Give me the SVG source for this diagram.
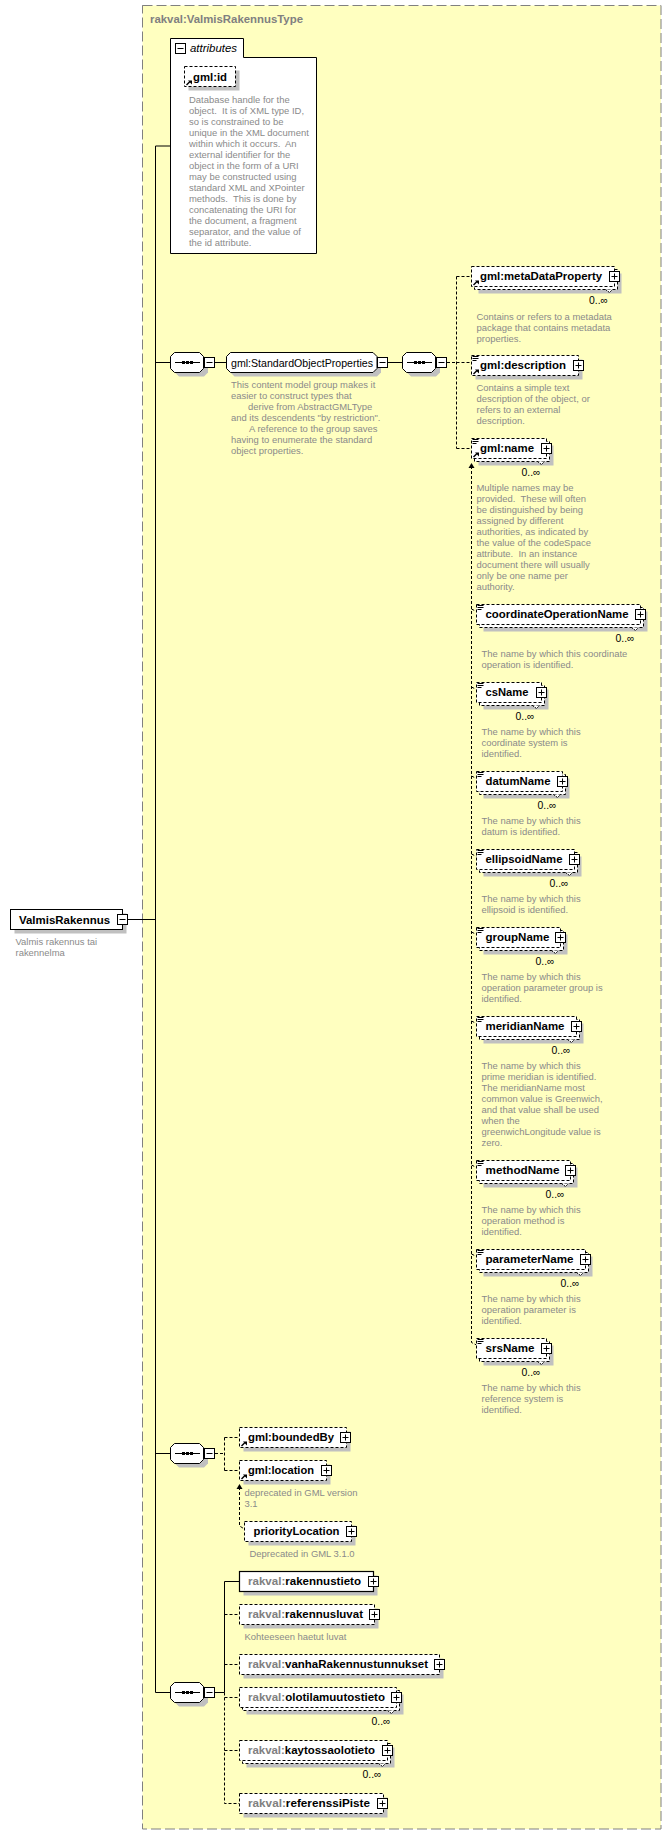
<svg xmlns="http://www.w3.org/2000/svg" width="672" height="1835" viewBox="0 0 672 1835">
<style>
text{font-family:"Liberation Sans",Arial,sans-serif;white-space:pre}
.b{font-size:11px;font-weight:bold;fill:#000}
.g{fill:#808080}
.n{font-size:11px;fill:#000}
.c{font-size:11px;fill:#000}
.t{font-size:9.45px;fill:#8a8a8a}
.sh{fill:#c0c0c0;stroke:none}
.d{fill:#fff;stroke:#000;stroke-dasharray:3 2}
.s{fill:#fff;stroke:#000}
.l{fill:none;stroke:#000}
.ld{fill:none;stroke:#000;stroke-dasharray:3 2}
</style>
<defs>
<g id="minus"><rect class="s" width="10" height="10"/><path class="l" d="M2 5H8"/></g>
<g id="plus"><rect class="s" width="10" height="10"/><path class="l" d="M2 5H8M5 2V8"/></g>
<g id="ref"><path d="M2 18.5L5.5 15" stroke="#000" stroke-width="1.4" fill="none"/><path d="M3.5 14H7.5V18Z" fill="#000"/></g>
<g id="note"><path d="M1 1H7M1 3H7M1 5H5" stroke="#000" fill="none"/></g>
<path id="tick" d="M-9 0L-5 3L-2 0" fill="#fff" stroke="#000" stroke-dasharray="2 1"/>
<g id="comp"><path class="sh" d="M8.500 4H33.500L37.500 8V20L33.500 24H8.500L4.500 20V8Z"/><path class="s" d="M4 0H29L33 4V16L29 20H4L0 16V4Z"/><path class="l" d="M4.500 10H29.500"/><path d="M11.500 8.500h3v3h-3zM15.500 8.500h3v3h-3zM19.500 8.500h3v3h-3z" fill="#000"/></g>
<path id="ah" d="M-3 5L0 0L3 5Z" fill="#000"/>
</defs>

<g id="type">
<rect x="142.500" y="5.500" width="518.500" height="1823.500" fill="#ffffc0" stroke="#808080" stroke-dasharray="10 4"/>
<text class="b g" x="150" y="23" textLength="153" lengthAdjust="spacingAndGlyphs">rakval:ValmisRakennusType</text>
</g>

<g id="connectors">
<path class="l" d="M128 919.500H155.500M155.500 146V1692.500M155.500 146H170.500M155.500 362.500H170.500M155.500 1453.500H170.500M155.500 1692.500H170.500M215 362.500H226.500M388 362.500H402.500M215 1692.500H224.500M224.500 1692.500V1581.500H239.500"/>
<path class="ld" d="M447 362.500H456.500M456.500 276.500V448.500M456.500 276.500H471.500M456.500 362.500H471.500M456.500 448.500H471.500"/>
<path class="ld" d="M471.500 466V1342.500L476.500 1345M471.500 609L476.500 611.500M471.500 687L476.500 689.500M471.500 776L476.500 778.500M471.500 854L476.500 856.500M471.500 932L476.500 934.500M471.500 1021L476.500 1023.500M471.500 1165L476.500 1167.500M471.500 1254L476.500 1256.500"/>
<path class="ld" d="M215 1453.500H224.500M224.500 1437.500V1470.500M224.500 1437.500H239.500M224.500 1470.500H239.500"/>
<path class="ld" d="M239.500 1487V1526L244.500 1529"/>
<path class="ld" d="M224.500 1692.500V1803.500H239.500M224.500 1614.500H239.500M224.500 1664.500H239.500M224.500 1697.500H239.500M224.500 1750.500H239.500"/>
<use href="#ah" x="471.500" y="463"/>
<use href="#ah" x="239.500" y="1484"/>
</g>

<g id="ValmisRakennus">
<rect class="sh" x="14.500" y="913.500" width="112" height="20"/>
<rect class="s" x="10.500" y="909.500" width="112" height="20"/>
<text class="b" x="19" y="923.500" textLength="91" lengthAdjust="spacingAndGlyphs">ValmisRakennus</text>
<use href="#minus" x="117.500" y="914.500"/>
<text class="t" x="15.500" y="945"><tspan x="15.500">Valmis rakennus tai</tspan><tspan x="15.500" dy="11">rakennelma</tspan></text>
</g>

<g id="attributes">
<path class="s" d="M170.500 253.500V38.500H243.500V57.500H316.500V253.500Z"/>
<use href="#minus" x="175.500" y="43.500"/>
<text class="n" x="190" y="52" font-style="italic" textLength="47" lengthAdjust="spacingAndGlyphs">attributes</text>
</g>

<g id="gml-id">
<rect class="sh" x="188.500" y="70.500" width="51" height="20"/>
<rect class="d" x="184.500" y="66.500" width="51" height="20"/>
<use href="#ref" x="184.500" y="66.500"/>
<text class="b" x="193" y="80.500" textLength="34" lengthAdjust="spacingAndGlyphs">gml:id</text>
<text class="t" y="102.500"><tspan x="189">Database handle for the</tspan><tspan x="189" dy="11">object.  It is of XML type ID,</tspan><tspan x="189" dy="11">so is constrained to be</tspan><tspan x="189" dy="11">unique in the XML document</tspan><tspan x="189" dy="11">within which it occurs.  An</tspan><tspan x="189" dy="11">external identifier for the</tspan><tspan x="189" dy="11">object in the form of a URI</tspan><tspan x="189" dy="11">may be constructed using</tspan><tspan x="189" dy="11">standard XML and XPointer</tspan><tspan x="189" dy="11">methods.  This is done by</tspan><tspan x="189" dy="11">concatenating the URI for</tspan><tspan x="189" dy="11">the document, a fragment</tspan><tspan x="189" dy="11">separator, and the value of</tspan><tspan x="189" dy="11">the id attribute.</tspan></text>
</g>

<g id="seq1">
<use href="#comp" x="170.500" y="352.500"/>
<use href="#minus" x="204.500" y="357.500"/>
</g>

<g id="StandardObjectProperties">
<path class="sh" d="M234.500 356.500H377L381 360.500V372.500L377 376.500H234.500L230.500 372.500V360.500Z"/>
<path class="s" d="M230.500 352.500H373L377 356.500V368.500L373 372.500H230.500L226.500 368.500V356.500Z"/>
<text class="n" x="231" y="366.500" textLength="142" lengthAdjust="spacingAndGlyphs">gml:StandardObjectProperties</text>
<use href="#minus" x="377.500" y="357.500"/>
<text class="t" y="388"><tspan x="231">This content model group makes it</tspan><tspan x="231" dy="11">easier to construct types that</tspan><tspan x="248" dy="11">derive from AbstractGMLType</tspan><tspan x="231" dy="11">and its descendents "by restriction".</tspan><tspan x="249" dy="11">A reference to the group saves</tspan><tspan x="231" dy="11">having to enumerate the standard</tspan><tspan x="231" dy="11">object properties.</tspan></text>
</g>

<g id="seq2">
<use href="#comp" x="402.500" y="352.500"/>
<use href="#minus" x="436.500" y="357.500"/>
</g>

<g id="metaDataProperty">
<rect class="sh" x="478.500" y="273.500" width="143" height="20"/>
<rect class="d" x="474.500" y="269.500" width="143" height="20"/>
<rect class="d" x="471.500" y="266.500" width="143" height="20"/>
<use href="#tick" x="614.500" y="289.500"/>
<use href="#ref" x="471.500" y="266.500"/>
<text class="b" x="480" y="280" textLength="122" lengthAdjust="spacingAndGlyphs">gml:metaDataProperty</text>
<use href="#plus" x="609.500" y="271.500"/>
<text class="c" x="589" y="304" textLength="19" lengthAdjust="spacingAndGlyphs">0..∞</text>
<text class="t" y="319.500"><tspan x="476.500">Contains or refers to a metadata</tspan><tspan x="476.500" dy="11">package that contains metadata</tspan><tspan x="476.500" dy="11">properties.</tspan></text>
</g>

<g id="description">
<rect class="sh" x="475.500" y="359.500" width="107" height="20"/>
<rect class="d" x="471.500" y="355.500" width="107" height="20"/>
<use href="#note" x="471.500" y="355.500"/>
<use href="#ref" x="471.500" y="355.500"/>
<text class="b" x="480" y="369" textLength="86" lengthAdjust="spacingAndGlyphs">gml:description</text>
<use href="#plus" x="573.500" y="360.500"/>
<text class="t" y="391"><tspan x="476.500">Contains a simple text</tspan><tspan x="476.500" dy="11">description of the object, or</tspan><tspan x="476.500" dy="11">refers to an external</tspan><tspan x="476.500" dy="11">description.</tspan></text>
</g>

<g id="name">
<rect class="sh" x="478.500" y="445.500" width="75" height="20"/>
<rect class="d" x="474.500" y="441.500" width="75" height="20"/>
<rect class="d" x="471.500" y="438.500" width="75" height="20"/>
<use href="#tick" x="546.500" y="461.500"/>
<use href="#note" x="471.500" y="438.500"/>
<use href="#ref" x="471.500" y="438.500"/>
<text class="b" x="480" y="452" textLength="54" lengthAdjust="spacingAndGlyphs">gml:name</text>
<use href="#plus" x="541.500" y="443.500"/>
<text class="c" x="521.500" y="476" textLength="19" lengthAdjust="spacingAndGlyphs">0..∞</text>
<text class="t" y="491"><tspan x="476.500">Multiple names may be</tspan><tspan x="476.500" dy="11">provided.  These will often</tspan><tspan x="476.500" dy="11">be distinguished by being</tspan><tspan x="476.500" dy="11">assigned by different</tspan><tspan x="476.500" dy="11">authorities, as indicated by</tspan><tspan x="476.500" dy="11">the value of the codeSpace</tspan><tspan x="476.500" dy="11">attribute.  In an instance</tspan><tspan x="476.500" dy="11">document there will usually</tspan><tspan x="476.500" dy="11">only be one name per</tspan><tspan x="476.500" dy="11">authority.</tspan></text>
</g>

<g id="coordinateOperationName">
<rect class="sh" x="483.500" y="611.500" width="164" height="20"/>
<rect class="d" x="479.500" y="607.500" width="164" height="20"/>
<rect class="d" x="476.500" y="604.500" width="164" height="20"/>
<use href="#tick" x="640.500" y="627.500"/>
<use href="#note" x="476.500" y="604.500"/>
<text class="b" x="485.500" y="618" textLength="143" lengthAdjust="spacingAndGlyphs">coordinateOperationName</text>
<use href="#plus" x="635.500" y="609.500"/>
<text class="c" x="615.500" y="642" textLength="19" lengthAdjust="spacingAndGlyphs">0..∞</text>
<text class="t" y="657"><tspan x="481.500">The name by which this coordinate</tspan><tspan x="481.500" dy="11">operation is identified.</tspan></text>
</g>

<g id="csName">
<rect class="sh" x="483.500" y="689.500" width="65" height="20"/>
<rect class="d" x="479.500" y="685.500" width="65" height="20"/>
<rect class="d" x="476.500" y="682.500" width="65" height="20"/>
<use href="#tick" x="541.500" y="705.500"/>
<use href="#note" x="476.500" y="682.500"/>
<text class="b" x="485.500" y="696" textLength="43" lengthAdjust="spacingAndGlyphs">csName</text>
<use href="#plus" x="536.500" y="687.500"/>
<text class="c" x="515.500" y="720" textLength="19" lengthAdjust="spacingAndGlyphs">0..∞</text>
<text class="t" y="735"><tspan x="481.500">The name by which this</tspan><tspan x="481.500" dy="11">coordinate system is</tspan><tspan x="481.500" dy="11">identified.</tspan></text>
</g>

<g id="datumName">
<rect class="sh" x="483.500" y="778.500" width="86" height="20"/>
<rect class="d" x="479.500" y="774.500" width="86" height="20"/>
<rect class="d" x="476.500" y="771.500" width="86" height="20"/>
<use href="#tick" x="562.500" y="794.500"/>
<use href="#note" x="476.500" y="771.500"/>
<text class="b" x="485.500" y="785" textLength="65" lengthAdjust="spacingAndGlyphs">datumName</text>
<use href="#plus" x="557.500" y="776.500"/>
<text class="c" x="537.500" y="809" textLength="19" lengthAdjust="spacingAndGlyphs">0..∞</text>
<text class="t" y="824"><tspan x="481.500">The name by which this</tspan><tspan x="481.500" dy="11">datum is identified.</tspan></text>
</g>

<g id="ellipsoidName">
<rect class="sh" x="483.500" y="856.500" width="98" height="20"/>
<rect class="d" x="479.500" y="852.500" width="98" height="20"/>
<rect class="d" x="476.500" y="849.500" width="98" height="20"/>
<use href="#tick" x="574.500" y="872.500"/>
<use href="#note" x="476.500" y="849.500"/>
<text class="b" x="485.500" y="863" textLength="77" lengthAdjust="spacingAndGlyphs">ellipsoidName</text>
<use href="#plus" x="569.500" y="854.500"/>
<text class="c" x="549.500" y="887" textLength="19" lengthAdjust="spacingAndGlyphs">0..∞</text>
<text class="t" y="902"><tspan x="481.500">The name by which this</tspan><tspan x="481.500" dy="11">ellipsoid is identified.</tspan></text>
</g>

<g id="groupName">
<rect class="sh" x="483.500" y="934.500" width="84" height="20"/>
<rect class="d" x="479.500" y="930.500" width="84" height="20"/>
<rect class="d" x="476.500" y="927.500" width="84" height="20"/>
<use href="#tick" x="560.500" y="950.500"/>
<use href="#note" x="476.500" y="927.500"/>
<text class="b" x="485.500" y="941" textLength="64" lengthAdjust="spacingAndGlyphs">groupName</text>
<use href="#plus" x="555.500" y="932.500"/>
<text class="c" x="535.500" y="965" textLength="19" lengthAdjust="spacingAndGlyphs">0..∞</text>
<text class="t" y="980"><tspan x="481.500">The name by which this</tspan><tspan x="481.500" dy="11">operation parameter group is</tspan><tspan x="481.500" dy="11">identified.</tspan></text>
</g>

<g id="meridianName">
<rect class="sh" x="483.500" y="1023.500" width="100" height="20"/>
<rect class="d" x="479.500" y="1019.500" width="100" height="20"/>
<rect class="d" x="476.500" y="1016.500" width="100" height="20"/>
<use href="#tick" x="576.500" y="1039.500"/>
<use href="#note" x="476.500" y="1016.500"/>
<text class="b" x="485.500" y="1030" textLength="79" lengthAdjust="spacingAndGlyphs">meridianName</text>
<use href="#plus" x="571.500" y="1021.500"/>
<text class="c" x="551.500" y="1054" textLength="19" lengthAdjust="spacingAndGlyphs">0..∞</text>
<text class="t" y="1069"><tspan x="481.500">The name by which this</tspan><tspan x="481.500" dy="11">prime meridian is identified.</tspan><tspan x="481.500" dy="11">The meridianName most</tspan><tspan x="481.500" dy="11">common value is Greenwich,</tspan><tspan x="481.500" dy="11">and that value shall be used</tspan><tspan x="481.500" dy="11">when the</tspan><tspan x="481.500" dy="11">greenwichLongitude value is</tspan><tspan x="481.500" dy="11">zero.</tspan></text>
</g>

<g id="methodName">
<rect class="sh" x="483.500" y="1167.500" width="94" height="20"/>
<rect class="d" x="479.500" y="1163.500" width="94" height="20"/>
<rect class="d" x="476.500" y="1160.500" width="94" height="20"/>
<use href="#tick" x="570.500" y="1183.500"/>
<use href="#note" x="476.500" y="1160.500"/>
<text class="b" x="485.500" y="1174" textLength="74" lengthAdjust="spacingAndGlyphs">methodName</text>
<use href="#plus" x="565.500" y="1165.500"/>
<text class="c" x="545.500" y="1198" textLength="19" lengthAdjust="spacingAndGlyphs">0..∞</text>
<text class="t" y="1213"><tspan x="481.500">The name by which this</tspan><tspan x="481.500" dy="11">operation method is</tspan><tspan x="481.500" dy="11">identified.</tspan></text>
</g>

<g id="parameterName">
<rect class="sh" x="483.500" y="1256.500" width="109" height="20"/>
<rect class="d" x="479.500" y="1252.500" width="109" height="20"/>
<rect class="d" x="476.500" y="1249.500" width="109" height="20"/>
<use href="#tick" x="585.500" y="1272.500"/>
<use href="#note" x="476.500" y="1249.500"/>
<text class="b" x="485.500" y="1263" textLength="88" lengthAdjust="spacingAndGlyphs">parameterName</text>
<use href="#plus" x="580.500" y="1254.500"/>
<text class="c" x="560.500" y="1287" textLength="19" lengthAdjust="spacingAndGlyphs">0..∞</text>
<text class="t" y="1302"><tspan x="481.500">The name by which this</tspan><tspan x="481.500" dy="11">operation parameter is</tspan><tspan x="481.500" dy="11">identified.</tspan></text>
</g>

<g id="srsName">
<rect class="sh" x="483.500" y="1345.500" width="70" height="20"/>
<rect class="d" x="479.500" y="1341.500" width="70" height="20"/>
<rect class="d" x="476.500" y="1338.500" width="70" height="20"/>
<use href="#tick" x="546.500" y="1361.500"/>
<use href="#note" x="476.500" y="1338.500"/>
<text class="b" x="485.500" y="1352" textLength="49" lengthAdjust="spacingAndGlyphs">srsName</text>
<use href="#plus" x="541.500" y="1343.500"/>
<text class="c" x="521.500" y="1376" textLength="19" lengthAdjust="spacingAndGlyphs">0..∞</text>
<text class="t" y="1391"><tspan x="481.500">The name by which this</tspan><tspan x="481.500" dy="11">reference system is</tspan><tspan x="481.500" dy="11">identified.</tspan></text>
</g>

<g id="seq3">
<use href="#comp" x="170.500" y="1443.500"/>
<use href="#minus" x="204.500" y="1448.500"/>
</g>

<g id="boundedBy">
<rect class="sh" x="243.500" y="1431.500" width="107" height="20"/>
<rect class="d" x="239.500" y="1427.500" width="107" height="20"/>
<use href="#ref" x="239.500" y="1427.500"/>
<text class="b" x="248" y="1441" textLength="86" lengthAdjust="spacingAndGlyphs">gml:boundedBy</text>
<use href="#plus" x="340.500" y="1432.500"/>
</g>

<g id="location">
<rect class="sh" x="243.500" y="1464.500" width="87" height="20"/>
<rect class="d" x="239.500" y="1460.500" width="87" height="20"/>
<use href="#ref" x="239.500" y="1460.500"/>
<text class="b" x="248" y="1474" textLength="66" lengthAdjust="spacingAndGlyphs">gml:location</text>
<use href="#plus" x="321.500" y="1465.500"/>
<text class="t" y="1496"><tspan x="244.500">deprecated in GML version</tspan><tspan x="244.500" dy="11">3.1</tspan></text>
</g>

<g id="priorityLocation">
<rect class="sh" x="248.500" y="1525.500" width="107" height="20"/>
<rect class="d" x="244.500" y="1521.500" width="107" height="20"/>
<text class="b" x="253.500" y="1535" textLength="86" lengthAdjust="spacingAndGlyphs">priorityLocation</text>
<use href="#plus" x="346.500" y="1526.500"/>
<text class="t" x="249.500" y="1557">Deprecated in GML 3.1.0</text>
</g>

<g id="seq4">
<use href="#comp" x="170.500" y="1682.500"/>
<use href="#minus" x="204.500" y="1687.500"/>
</g>

<g id="rakennustieto">
<rect class="sh" x="243.500" y="1575.500" width="134" height="20"/>
<rect class="s" x="239.500" y="1571.500" width="134" height="20" stroke-width="1.200"/>
<text class="b" x="248" y="1585" textLength="113" lengthAdjust="spacingAndGlyphs"><tspan class="g">rakval:</tspan>rakennustieto</text>
<use href="#plus" x="368.500" y="1576.500"/>
</g>

<g id="rakennusluvat">
<rect class="sh" x="243.500" y="1608.500" width="135" height="20"/>
<rect class="d" x="239.500" y="1604.500" width="135" height="20"/>
<text class="b" x="248" y="1618" textLength="115" lengthAdjust="spacingAndGlyphs"><tspan class="g">rakval:</tspan>rakennusluvat</text>
<use href="#plus" x="369.500" y="1609.500"/>
<text class="t" x="244.500" y="1640">Kohteeseen haetut luvat</text>
</g>

<g id="vanhaRakennustunnukset">
<rect class="sh" x="243.500" y="1658.500" width="200" height="20"/>
<rect class="d" x="239.500" y="1654.500" width="200" height="20"/>
<text class="b" x="248" y="1668" textLength="180" lengthAdjust="spacingAndGlyphs"><tspan class="g">rakval:</tspan>vanhaRakennustunnukset</text>
<use href="#plus" x="434.500" y="1659.500"/>
</g>

<g id="olotilamuutostieto">
<rect class="sh" x="246.500" y="1694.500" width="157" height="20"/>
<rect class="d" x="242.500" y="1690.500" width="157" height="20"/>
<rect class="d" x="239.500" y="1687.500" width="157" height="20"/>
<use href="#tick" x="396.500" y="1710.500"/>
<text class="b" x="248" y="1701" textLength="137" lengthAdjust="spacingAndGlyphs"><tspan class="g">rakval:</tspan>olotilamuutostieto</text>
<use href="#plus" x="391.500" y="1692.500"/>
<text class="c" x="371.500" y="1725" textLength="19" lengthAdjust="spacingAndGlyphs">0..∞</text>
</g>

<g id="kaytossaolotieto">
<rect class="sh" x="246.500" y="1747.500" width="148" height="20"/>
<rect class="d" x="242.500" y="1743.500" width="148" height="20"/>
<rect class="d" x="239.500" y="1740.500" width="148" height="20"/>
<use href="#tick" x="387.500" y="1763.500"/>
<text class="b" x="248" y="1754" textLength="127" lengthAdjust="spacingAndGlyphs"><tspan class="g">rakval:</tspan>kaytossaolotieto</text>
<use href="#plus" x="382.500" y="1745.500"/>
<text class="c" x="362.500" y="1778" textLength="19" lengthAdjust="spacingAndGlyphs">0..∞</text>
</g>

<g id="referenssiPiste">
<rect class="sh" x="243.500" y="1797.500" width="144" height="20"/>
<rect class="d" x="239.500" y="1793.500" width="144" height="20"/>
<text class="b" x="248" y="1807" textLength="122" lengthAdjust="spacingAndGlyphs"><tspan class="g">rakval:</tspan>referenssiPiste</text>
<use href="#plus" x="377.500" y="1798.500"/>
</g>
</svg>
